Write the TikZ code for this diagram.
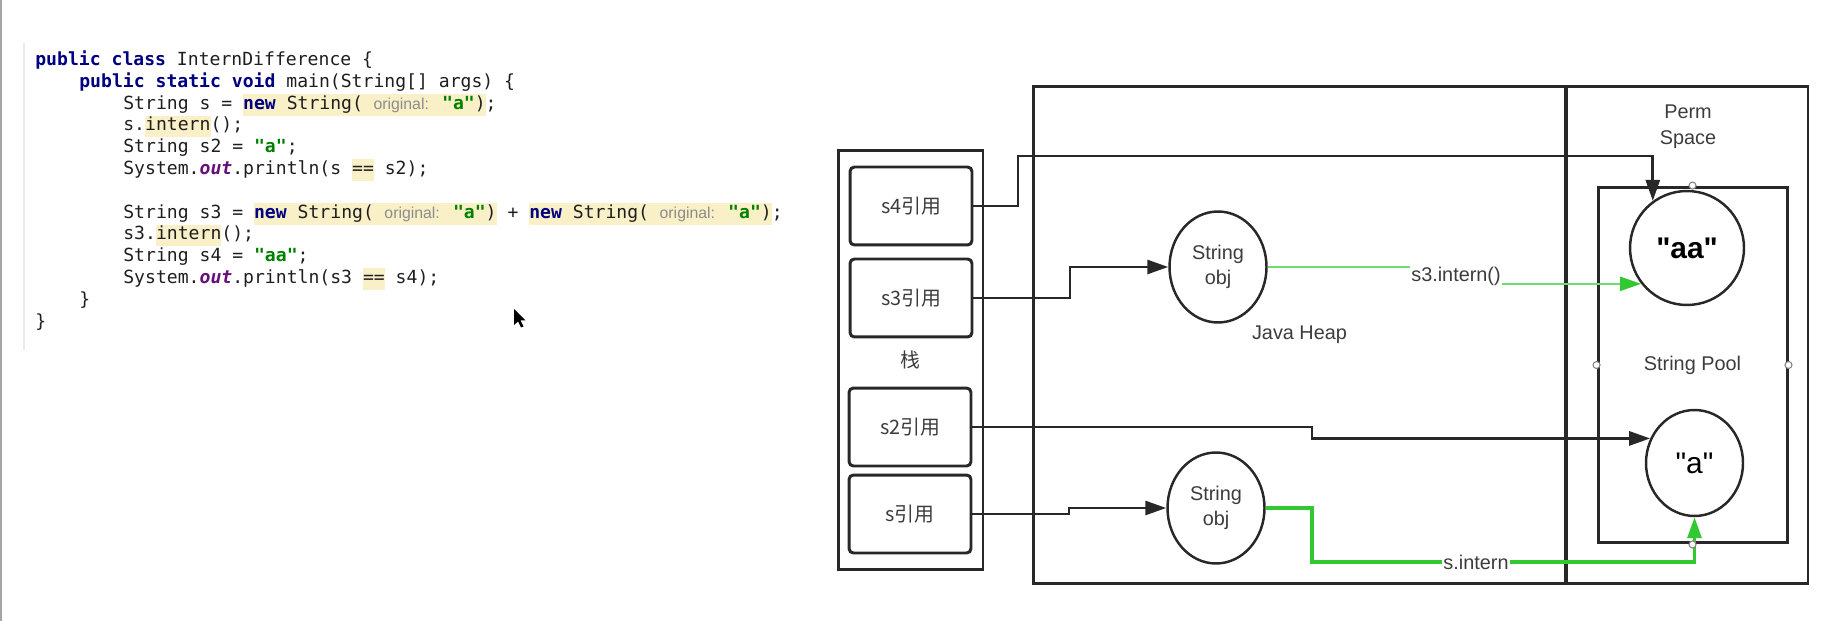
\documentclass[tikz,border=0pt]{standalone}
\usepackage{fontspec}
\usepackage{xcolor}
\setmainfont{Liberation Sans}
\newfontfamily\codefont{DejaVu Sans Mono}
\newfontfamily\cjk{Noto Sans CJK SC}
\usetikzlibrary{arrows.meta,shapes.geometric}

\definecolor{kwblue}{RGB}{0,0,128}
\definecolor{strgreen}{RGB}{0,128,0}
\definecolor{fldpurple}{RGB}{102,14,122}
\definecolor{hlyellow}{RGB}{249,240,200}
\definecolor{hintgray}{RGB}{140,140,140}
\definecolor{codeink}{RGB}{30,30,30}
\definecolor{boxgray}{RGB}{40,40,40}
\definecolor{labelgray}{RGB}{60,60,60}
\definecolor{greenA}{RGB}{110,220,110}
\definecolor{greenB}{RGB}{50,200,50}

\newcommand{\kw}[1]{\textbf{\color{kwblue}#1}}
\newcommand{\jstr}[1]{\textbf{\color{strgreen}#1}}
\newcommand{\fld}[1]{\textbf{\textit{\color{fldpurple}#1}}}
\newcommand{\hlite}[1]{{\setlength{\fboxsep}{0pt}\colorbox{hlyellow}{\strut#1}}}
\newcommand{\paramhint}[1]{\hspace{6pt}{\normalfont\fontsize{9}{10}\selectfont\color{hintgray}#1}\hspace{7.5pt}}
\newcommand{\dq}{\textquotedbl}

\tikzset{codeline/.style={anchor=base west, inner sep=0pt, text=codeink,
    font=\codefont\fontsize{10.3}{12.36}\selectfont}}
\tikzset{area/.style={draw=boxgray, line width=1.7pt, inner sep=0pt, text=labelgray,
    font=\fontsize{11.3}{14}\selectfont}}
\tikzset{refbox/.style={area, rounded corners=2.5pt, minimum width=2.44cm, minimum height=1.56cm, font=\cjk\fontsize{11.3}{14}\selectfont}}
\tikzset{obj/.style={area, ellipse, line width=1.4pt, minimum width=1.94cm, minimum height=2.22cm, align=center}}
\tikzset{pooled/.style={area, line width=1.4pt, text=black, font=\fontsize{17}{20}\selectfont}}
\tikzset{ref/.style={draw=boxgray, line width=1.6pt, -{Triangle[length=0.42cm,width=0.28cm]}}}
\tikzset{internA/.style={draw=greenA, line width=1.2pt, -{Triangle[length=0.42cm,width=0.28cm,color=greenB]}}}
\tikzset{internB/.style={draw=greenB, line width=1.8pt, -{Triangle[length=0.42cm,width=0.28cm,color=greenB]}}}
\tikzset{edgelbl/.style={fill=white, inner sep=1pt, text=labelgray, font=\fontsize{11.3}{14}\selectfont}}
\tikzset{port/.style={circle, draw=gray, fill=white, inner sep=0pt, minimum size=0.14cm, line width=0.6pt}}

\begin{document}
\begin{tikzpicture}[x=0.02cm, y=-0.02cm]
\useasboundingbox (0,0) rectangle (1845,621);

\draw[gray!70, line width=1pt] (1,0) -- (1,621);
\draw[black!8, line width=1.5pt] (24,43) -- (24,350);

\node[codeline] (c1) at (35,65.5) {\kw{public class} InternDifference \{};
\node[codeline] (c2) at (79,87.3) {\kw{public static void} main(String[] args) \{};
\node[codeline] (c3) at (123,109.1) {String s = \hlite{\kw{new} String(\paramhint{original:}\jstr{"a"})};};
\node[codeline] (c4) at (123,130.9) {s.\hlite{intern}();};
\node[codeline] (c5) at (123,152.7) {String s2 = \jstr{"a"};};
\node[codeline] (c6) at (123,174.5) {System.\fld{out}.println(s \hlite{==} s2);};
\node[codeline] (c8) at (123,218.1) {String s3 = \hlite{\kw{new} String(\paramhint{original:}\jstr{"a"})} + \hlite{\kw{new} String(\paramhint{original:}\jstr{"a"})};};
\node[codeline] (c9) at (123,239.9) {s3.\hlite{intern}();};
\node[codeline] (c10) at (123,261.7) {String s4 = \jstr{"aa"};};
\node[codeline] (c11) at (123,283.5) {System.\fld{out}.println(s3 \hlite{==} s4);};
\node[codeline] (c12) at (79,305.3) {\}};
\node[codeline] (c13) at (35,327.1) {\}};

\fill[black] (514,309) -- ++(0,16) -- ++(4,-3.5) -- ++(3,6) -- ++(2.5,-1) -- ++(-3,-6) -- ++(5,0) -- cycle;

\node[area, minimum width=10.66cm, minimum height=9.96cm] (heap) at (1299.5,335) {Java Heap};
\node[area, minimum width=4.84cm, minimum height=9.96cm] (perm) at (1687,335) {};
\node[text=labelgray, align=center, font=\fontsize{11.3}{15}\selectfont] (permlbl) at (1688,127) {Perm\\Space};
\node[area, minimum width=3.78cm, minimum height=7.12cm] (pool) at (1692.5,365) {String Pool};

\node[area, minimum width=2.9cm, minimum height=8.4cm, font=\cjk\fontsize{11.3}{14}\selectfont] (stack) at (910.5,360) {栈};
\node[refbox] (s4ref) at (911,206) {s4引用};
\node[refbox] (s3ref) at (911,298) {s3引用};
\node[refbox] (s2ref) at (910,427) {s2引用};
\node[refbox] (sref) at (910,514) {s引用};

\node[obj] (obj3) at (1218,267) {String\\obj};
\node[obj] (obj1) at (1216,508) {String\\obj};

\node[pooled, circle, minimum size=2.28cm] (aa) at (1687,248) {\bfseries\dq aa\dq};
\node[pooled, ellipse, minimum width=1.94cm, minimum height=2.12cm] (a) at (1694.5,463) {\dq a\dq};

\draw[ref] (s4ref.east) -| (1018,156) -| (aa.126);
\draw[ref] (s3ref.east) -| (1070,267) -- (obj3.west);
\draw[ref] (s2ref.east) -| (1312,0 |- a.151) -- (a.151);
\draw[ref] (sref.east) -| (1069,508) -- (obj1.west);

\draw[internA] (obj3.east) -| (1456,0 |- aa.218) -- (aa.218);
\node[edgelbl] (lbls3) at (1456,276) {s3.intern()};
\draw[internB] (obj1.east) -| (1312,562) -| (a.south);
\node[edgelbl] (lbls) at (1476,562) {s.intern};

\node[port] (pn) at (pool.north) {};
\node[port] (pw) at (pool.west) {};
\node[port] (pe) at (pool.east) {};
\node[port] (ps) at (pool.south) {};

\end{tikzpicture}
\end{document}
